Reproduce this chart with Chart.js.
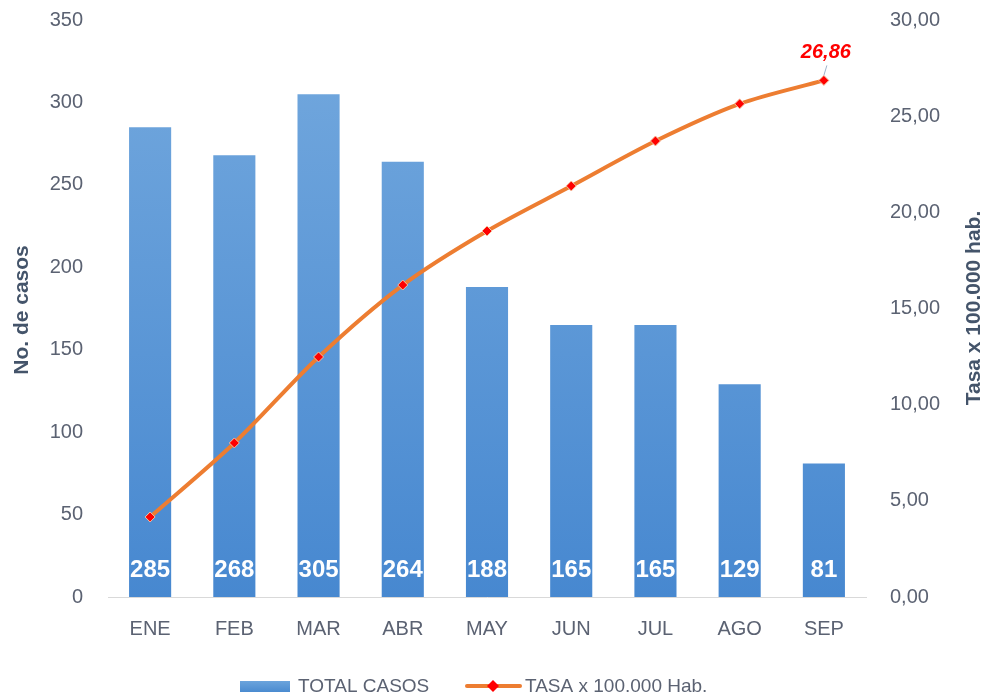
<!DOCTYPE html>
<html>
<head>
<meta charset="utf-8">
<script src="https://cdn.jsdelivr.net/npm/chart.js@4"></script>
<style>
  html, body { margin: 0; padding: 0; background: #fff; }
  #wrap { width: 982px; height: 700px; }
</style>
</head>
<body>
<div id="wrap"><canvas id="grafico"></canvas></div>
<script>
// datos
var meses = ["ENE", "FEB", "MAR", "ABR", "MAY", "JUN", "JUL", "AGO", "SEP"];
var totalCasos = [285, 268, 305, 264, 188, 165, 165, 129, 81];
var tasa = [4.16, 8.01, 12.48, 16.22, 19.03, 21.37, 23.71, 25.64, 26.86];
var ticksCasos = [0, 50, 100, 150, 200, 250, 300, 350];
var ticksTasa = [0, 5, 10, 15, 20, 25, 30];

var tickColor = '#5b6272';
var titleColor = '#44546a';

function coma(v) { return v.toFixed(2).replace('.', ','); }

// etiquetas, titulos y leyenda dibujados a mano
var extras = {
  id: 'extras',
  afterDatasetsDraw: function (chart) {
    var c = chart.ctx;
    var yS = chart.scales.y;
    var bars = chart.getDatasetMeta(1).data;
    c.save();
    c.fillStyle = '#ffffff';
    c.font = 'bold 24px "Liberation Sans", Arial, sans-serif';
    c.textAlign = 'center';
    c.textBaseline = 'middle';
    bars.forEach(function (b, i) {
      c.fillText(totalCasos[i], b.x, yS.getPixelForValue(0) - 27);
    });

    // ultimo valor de la tasa
    var pts = chart.getDatasetMeta(0).data;
    var last = pts[pts.length - 1];
    c.strokeStyle = '#9fb3cc';
    c.lineWidth = 1;
    c.beginPath();
    c.moveTo(last.x, last.y - 5);
    c.lineTo(last.x + 3, last.y - 15);
    c.stroke();
    c.fillStyle = '#ff0000';
    c.font = 'italic bold 20px "Liberation Sans", Arial, sans-serif';
    c.fillText(coma(tasa[tasa.length - 1]), last.x + 2, last.y - 28);
    c.restore();
  },
  afterDraw: function (chart) {
    var c = chart.ctx;
    c.save();
    c.fillStyle = titleColor;
    c.font = 'bold 21px "Liberation Sans Narrow", "Liberation Sans", sans-serif';
    c.textAlign = 'center';
    c.textBaseline = 'middle';
    c.translate(22, 310);
    c.rotate(-Math.PI / 2);
    c.fillText('No. de casos', 0, 0);
    c.restore();

    c.save();
    c.fillStyle = titleColor;
    c.font = 'bold 21px "Liberation Sans Narrow", "Liberation Sans", sans-serif';
    c.textAlign = 'center';
    c.textBaseline = 'middle';
    c.translate(974, 308);
    c.rotate(-Math.PI / 2);
    c.fillText('Tasa x 100.000 hab.', 0, 0);
    c.restore();

    // leyenda
    var ly = 686;
    c.save();
    var g = c.createLinearGradient(0, ly - 6, 0, ly + 6);
    g.addColorStop(0, '#6ea6dd');
    g.addColorStop(1, '#4a8bd0');
    c.fillStyle = g;
    c.fillRect(240, ly - 5, 50, 11);
    c.fillStyle = tickColor;
    c.font = '19px "Liberation Sans", Arial, sans-serif';
    c.textAlign = 'left';
    c.textBaseline = 'middle';
    c.fillText('TOTAL CASOS', 298, ly + 1);

    c.strokeStyle = '#ed7d31';
    c.lineWidth = 4;
    c.lineCap = 'round';
    c.beginPath();
    c.moveTo(467, ly);
    c.lineTo(520, ly);
    c.stroke();
    c.fillStyle = '#ff0000';
    c.beginPath();
    c.moveTo(493, ly - 6);
    c.lineTo(499, ly);
    c.lineTo(493, ly + 6);
    c.lineTo(487, ly);
    c.closePath();
    c.fill();
    c.fillStyle = tickColor;
    c.fillText('TASA x 100.000 Hab.', 525, ly + 1);
    c.restore();
  }
};

function degradado(context) {
  var chart = context.chart;
  var area = chart.chartArea;
  if (!area) return '#5b9bd5';
  var g = chart.ctx.createLinearGradient(0, area.top, 0, area.bottom);
  g.addColorStop(0, '#74a9de');
  g.addColorStop(1, '#4788d0');
  return g;
}

var tickFont = { family: '"Liberation Sans", Arial, sans-serif', size: 20 };

function ajusteY(ancho) {
  return function (s) {
    s.width = ancho;
    s.paddingTop = 0;
    s.paddingBottom = 0;
  };
}

var ctx = document.getElementById('grafico').getContext('2d');
var grafico = new Chart(ctx, {
  data: {
    labels: meses,
    datasets: [{
      type: 'line',
      label: 'TASA x 100.000 Hab.',
      data: tasa,
      yAxisID: 'y1',
      order: 0,
      borderColor: '#ed7d31',
      borderWidth: 4,
      tension: 0.3,
      pointStyle: 'rectRot',
      pointRadius: 5,
      pointBackgroundColor: '#ff0000',
      pointBorderColor: '#f4c1a0',
      pointBorderWidth: 1
    }, {
      type: 'bar',
      label: 'TOTAL CASOS',
      data: totalCasos,
      yAxisID: 'y',
      order: 1,
      backgroundColor: degradado,
      categoryPercentage: 1,
      barPercentage: 0.5
    }]
  },
  options: {
    responsive: true,
    maintainAspectRatio: false,
    animation: false,
    layout: { padding: { top: 20, left: 0, right: 0, bottom: 0 } },
    plugins: {
      legend: { display: false },
      tooltip: { enabled: false }
    },
    scales: {
      x: {
        grid: { display: false, drawTicks: false },
        border: { display: true, color: '#d9d9d9', width: 1 },
        ticks: { color: tickColor, padding: 20, font: tickFont },
        afterFit: function (s) { s.height = 103; }
      },
      y: {
        position: 'left',
        min: 0,
        max: 350,
        grid: { display: false, drawTicks: false },
        border: { display: false },
        afterBuildTicks: function (s) {
          s.ticks = ticksCasos.map(function (v) { return { value: v }; });
        },
        ticks: { color: tickColor, padding: 25, font: tickFont },
        afterFit: ajusteY(108)
      },
      y1: {
        position: 'right',
        min: 0,
        max: 30,
        grid: { display: false, drawTicks: false },
        border: { display: false },
        afterBuildTicks: function (s) {
          s.ticks = ticksTasa.map(function (v) { return { value: v }; });
        },
        ticks: {
          color: tickColor,
          padding: 24,
          font: tickFont,
          callback: function (v) { return coma(v); }
        },
        afterFit: ajusteY(116)
      }
    }
  },
  plugins: [extras]
});
</script>
</body>
</html>
